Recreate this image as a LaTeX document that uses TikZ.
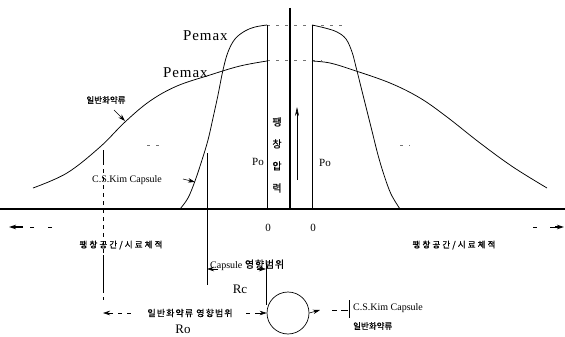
\documentclass[tikz,border=0pt]{standalone}
\usepackage{fontspec}
\setmainfont{Liberation Serif}
\newfontfamily\kr[FakeBold=0.6]{Noto Sans CJK KR}
\usetikzlibrary{arrows.meta}
\begin{document}
\begin{tikzpicture}[x=1pt,y=-1pt,
  thinl/.style={line width=0.6pt},
  curve/.style={line width=0.75pt},
  thick axis/.style={line width=2.6pt},
  faint/.style={line width=0.5pt, black!55, dash pattern=on 3pt off 6pt},
  krl/.style={font=\kr\fontsize{8.5}{10}\selectfont, inner sep=0pt},
  lat/.style={font=\fontsize{10}{12}\selectfont, inner sep=0pt},
  num/.style={font=\fontsize{11}{12}\selectfont, inner sep=0pt},
  big/.style={font=\addfontfeatures{LetterSpace=6}\fontsize{15}{16}\selectfont, inner sep=0pt},
  tipa/.style={-{Stealth[length=7pt,width=4.5pt]}},
]
\useasboundingbox[fill=white] (0,0) rectangle (565,337);

% axes
\coordinate (bl) at (0,209); \coordinate (br) at (565,209);
\coordinate (ct) at (290,8);  \coordinate (cb) at (290,209);
\draw[thick axis] (bl) -- (br);
\draw[thick axis] (ct) -- (cb);

% faint dashed guide lines
\draw[faint] (267,25) -- (347,25);
\draw[faint] (267,60) -- (322,60);
\draw[faint] (147,145) -- (165,145);
\draw[faint] (400,145) -- (410,145);

% vertical lines at plateau ends
\coordinate (lt) at (267,25); \coordinate (lb) at (267,209);
\coordinate (rt) at (312,25); \coordinate (rb) at (312,209);
\draw[thinl] (lt) -- (lb);
\draw[thinl] (rt) -- (rb);

% narrow curves (C.S.Kim Capsule)
\draw[curve] plot[smooth,tension=0.6] coordinates {(180,209) (188,198) (195,181) (202,160) (208,140) (213,118) (218,95) (223,70) (228,52) (235,39) (245,31) (255,27) (267,25)};
\draw[curve] plot[smooth,tension=0.6] coordinates {(312,25) (325,28) (337,32) (346,39) (352,52) (356,67) (361,87) (366,107) (372,131) (378,155) (384,175) (391,194) (400,209)};

% wide curves (general explosives)
\draw[curve] plot[smooth,tension=0.6] coordinates {(33,188) (67,173) (100,147) (125,122) (150,101) (177,86) (210,75) (240,66) (267,61)};
\draw[curve] plot[smooth,tension=0.6] coordinates {(312,61) (330,63) (353,70) (390,83) (420,98) (447,117) (480,143) (513,167) (547,188)};

% labels on curves
\node[big, anchor=south west] (pm1) at (183,41) {Pemax};
\node[big, anchor=south west] (pm2) at (163,78) {Pemax};
\node[krl] (gen) at (106,100) {일반화약류};
\coordinate (gentip) at (125,121);
\draw[thinl, tipa] (114,110) -- (gentip);
\node[lat] (csk) at (127,180) {C.S.Kim Capsule};
\coordinate (csktip) at (195,182);
\draw[thinl, tipa] (183,179) -- (csktip);

% vertical pressure label and arrow
\node[font=\kr\fontsize{10}{22}\selectfont, inner sep=0pt, align=center] (pr) at (277,155) {팽\\창\\압\\력};
\node[num] (po1) at (258,162) {Po};
\node[num] (po2) at (325,163) {Po};
\coordinate (upb) at (297,180); \coordinate (upt) at (297,107);
\draw[thinl, -{Stealth[length=9pt,width=4pt]}] (upb) -- (upt);

% zero labels
\node[num] (z1) at (268,228) {0};
\node[num] (z2) at (313,228) {0};

% horizontal axis arrows
\coordinate (la0) at (9,227); \coordinate (ra0) at (564,227);
\draw[line width=0.8pt, dash pattern=on 4pt off 14pt] (52,227) -- (24,227);
\draw[line width=1.4pt, tipa] (23,227) -- (la0);
\draw[line width=0.8pt] (533,227) -- (537,227);
\draw[line width=0.8pt] (550,227) -- (556,227);
\draw[line width=1.4pt, tipa] (555,227) -- (ra0);
\node[krl, font=\kr\addfontfeatures{LetterSpace=25}\fontsize{8.5}{10}\selectfont] (vl) at (121,245) {팽창공간/시료체적};
\node[krl, font=\kr\addfontfeatures{LetterSpace=25}\fontsize{8.5}{10}\selectfont] (vr) at (454,245) {팽창공간/시료체적};

% range markers
\coordinate (a1) at (103,150); \coordinate (a2) at (103,161);
\coordinate (a3) at (103,255); \coordinate (a4) at (103,290); \coordinate (a5) at (103,300);
\draw[thinl] (a1) -- (a2);
\draw[thinl, dash pattern=on 4pt off 4pt] (a2) -- (a3);
\draw[thinl] (a3) -- (a4);
\draw[thinl, dash pattern=on 3pt off 4pt] (a4) -- (a5);
\coordinate (c1) at (207,153); \coordinate (c2) at (207,285);
\draw[thinl] (c1) -- (c2);
\coordinate (d1) at (266,263); \coordinate (d2) at (266,305);
\draw[thinl] (d1) -- (d2);

% capsule range
\node[inner sep=0pt, font=\fontsize{10}{11}\selectfont, anchor=base west] (capr) at (210,268) {Capsule {\kr\addfontfeatures{LetterSpace=8}영향범위}};
\draw[thinl, tipa] (218,269) -- (c1 |- 0,269);
\draw[thinl, tipa] (257,269) -- (d1 |- 0,269);
\node[font=\fontsize{13}{14}\selectfont, inner sep=0pt] (rc) at (240,289) {Rc};

% circle
\node[draw, circle, line width=0.7pt, minimum size=42pt, inner sep=0pt] (circ) at (288,313) {};

% general range
\node[krl, font=\kr\addfontfeatures{LetterSpace=12}\fontsize{9}{10}\selectfont] (genr) at (190,313) {일반화약류 영향범위};
\draw[thinl, tipa] (113,313) -- (a4 |- 0,313);
\draw[thinl, dash pattern=on 4pt off 5pt] (118,313) -- (134,313);
\draw[thinl, dash pattern=on 4pt off 5pt] (246,313) -- (257,313);
\draw[thinl, tipa] (257,313) -- (circ.west);
\node[font=\fontsize{13}{14}\selectfont, inner sep=0pt] (ro) at (183,329) {Ro};

% legend
\coordinate (lg) at (320,310);
\draw[thinl, tipa] (circ.east) -- (lg);
\draw[thinl] (332,310) -- (337,310);
\draw[thinl] (341,310) -- (348,310);
\draw[thinl] (349,300) -- (349,318);
\node[lat, anchor=west] (leg1) at (353,308) {C.S.Kim Capsule};
\node[krl, anchor=west] (leg2) at (353,326) {일반화약류};
\end{tikzpicture}
\end{document}
